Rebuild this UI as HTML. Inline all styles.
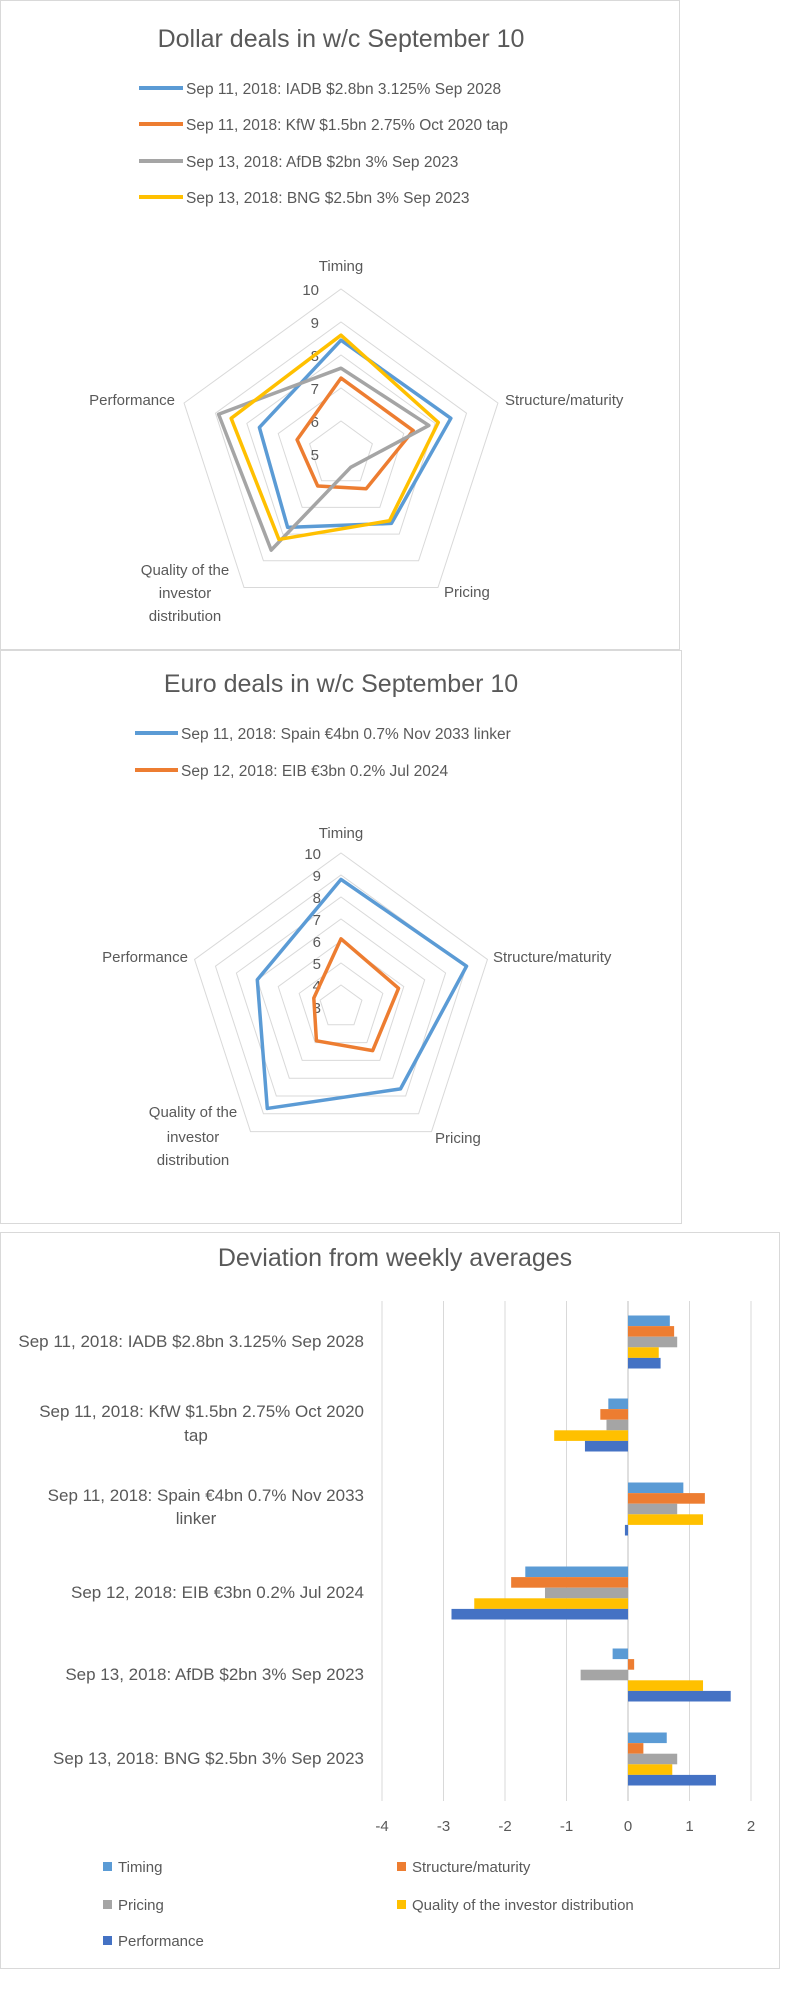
<!DOCTYPE html>
<html><head><meta charset="utf-8"><style>
html,body{margin:0;padding:0;background:#fff}
svg{display:block;font-family:"Liberation Sans",sans-serif}
</style></head><body>
<svg id="s" width="800" height="1994" xmlns="http://www.w3.org/2000/svg">
<rect x="0.5" y="0.5" width="679" height="649" fill="#fff" stroke="#d9d9d9"/>
<rect x="0.5" y="650.5" width="681" height="573" fill="#fff" stroke="#d9d9d9"/>
<rect x="0.5" y="1232.5" width="779" height="736" fill="#fff" stroke="#d9d9d9"/>
<g fill="#595959">
<text x="341" y="47" font-size="25" text-anchor="middle">Dollar deals in w/c September 10</text>
<text x="341" y="692" font-size="25" text-anchor="middle">Euro deals in w/c September 10</text>
<text x="395" y="1266" font-size="25" text-anchor="middle">Deviation from weekly averages</text>
</g>
<g font-size="15.5" fill="#595959">
<line x1="139" y1="88" x2="183" y2="88" stroke="#5B9BD5" stroke-width="4"/><text x="186" y="94">Sep 11, 2018: IADB $2.8bn 3.125% Sep 2028</text>
<line x1="139" y1="124" x2="183" y2="124" stroke="#ED7D31" stroke-width="4"/><text x="186" y="130">Sep 11, 2018: KfW $1.5bn 2.75% Oct 2020 tap</text>
<line x1="139" y1="161" x2="183" y2="161" stroke="#A5A5A5" stroke-width="4"/><text x="186" y="167">Sep 13, 2018: AfDB $2bn 3% Sep 2023</text>
<line x1="139" y1="197" x2="183" y2="197" stroke="#FFC000" stroke-width="4"/><text x="186" y="203">Sep 13, 2018: BNG $2.5bn 3% Sep 2023</text>
<line x1="135" y1="733" x2="178" y2="733" stroke="#5B9BD5" stroke-width="4"/><text x="181" y="739">Sep 11, 2018: Spain €4bn 0.7% Nov 2033 linker</text>
<line x1="135" y1="770" x2="178" y2="770" stroke="#ED7D31" stroke-width="4"/><text x="181" y="776">Sep 12, 2018: EIB €3bn 0.2% Jul 2024</text>
</g>
<g id="r1"></g><g id="r2"></g><g id="b"></g>
</svg>
<script>
var NS="http://www.w3.org/2000/svg";
function el(p,t,a,txt){var e=document.createElementNS(NS,t);for(var k in a)e.setAttribute(k,a[k]);if(txt!=null)e.textContent=txt;p.appendChild(e);return e;}
function radar(g,cx,cy,R,min,max,series,labels,tickX){
 var n=max-min;
 function pt(i,v){var a=(-90+72*i)*Math.PI/180,r=(v-min)/n*R;return [cx+r*Math.cos(a),cy+r*Math.sin(a)];}
 for(var l=min+1;l<=max;l++){var p=[];for(var i=0;i<5;i++)p.push(pt(i,l).join(','));el(g,'polygon',{points:p.join(' '),fill:'none',stroke:'#d9d9d9','stroke-width':1});}
 for(var l=min;l<=max;l++){el(g,'text',{x:tickX,y:cy-(l-min)/n*R+6,'font-size':15,'text-anchor':'end',fill:'#595959'},l);}
 series.forEach(function(s){var p=[];for(var i=0;i<5;i++)p.push(pt(i,s.v[i]).join(','));el(g,'polygon',{points:p.join(' '),fill:'none',stroke:s.c,'stroke-width':3.5,'stroke-linejoin':'round'});});
 labels.forEach(function(L){el(g,'text',{x:L[0],y:L[1],'font-size':15,'text-anchor':L[3]||'start',fill:'#595959'},L[2]);});
}
radar(document.getElementById('r1'),341,454,165,5,10,[
 {c:'#5B9BD5',v:[8.45,8.5,7.6,7.75,7.6]},
 {c:'#ED7D31',v:[7.3,7.3,6.3,6.2,6.4]},
 {c:'#A5A5A5',v:[7.6,7.8,5.5,8.6,8.9]},
 {c:'#FFC000',v:[8.6,8.1,7.5,8.2,8.5]}],
 [[341,271,'Timing','middle'],[505,405,'Structure/maturity'],[175,405,'Performance','end'],[444,597,'Pricing'],[185,575,'Quality of the','middle'],[185,598,'investor','middle'],[185,621,'distribution','middle']],319);
radar(document.getElementById('r2'),341,1007,154,3,10,[
 {c:'#5B9BD5',v:[8.8,9.0,7.6,8.7,7.0]},
 {c:'#ED7D31',v:[6.1,5.75,5.45,4.9,4.3]}],
 [[341,838,'Timing','middle'],[493,962,'Structure/maturity'],[188,962,'Performance','end'],[435,1143,'Pricing'],[193,1117,'Quality of the','middle'],[193,1142,'investor','middle'],[193,1165,'distribution','middle']],321);
var b=document.getElementById('b');
var z=628,u=61.5;
for(var t=-4;t<=2;t++){var x=z+t*u;el(b,'line',{x1:x,y1:1301,x2:x,y2:1801,stroke:t==0?'#bfbfbf':'#d9d9d9'});el(b,'text',{x:x,y:1831,'font-size':15,'text-anchor':'middle',fill:'#595959'},t);}
var cols=['#5B9BD5','#ED7D31','#A5A5A5','#FFC000','#4472C4'];
var data=[[0.68,0.75,0.8,0.5,0.53],[-0.32,-0.45,-0.35,-1.2,-0.7],[0.9,1.25,0.8,1.22,-0.05],[-1.67,-1.9,-1.35,-2.5,-2.87],[-0.25,0.1,-0.77,1.22,1.67],[0.63,0.25,0.8,0.72,1.43]];
var cy=[1342,1425,1509,1593,1675,1759];
data.forEach(function(d,gi){d.forEach(function(v,i){var y=cy[gi]-26.5+i*10.6;el(b,'rect',{x:Math.min(z,z+v*u),y:y,width:Math.abs(v*u),height:10.6,fill:cols[i]});});});
var labs=[[[1347,'Sep 11, 2018: IADB $2.8bn 3.125% Sep 2028']],[[1417,'Sep 11, 2018: KfW $1.5bn 2.75% Oct 2020'],[1441,'tap',1]],[[1501,'Sep 11, 2018: Spain €4bn 0.7% Nov 2033'],[1524,'linker',1]],[[1598,'Sep 12, 2018: EIB €3bn 0.2% Jul 2024']],[[1680,'Sep 13, 2018: AfDB $2bn 3% Sep 2023']],[[1764,'Sep 13, 2018: BNG $2.5bn 3% Sep 2023']]];
labs.forEach(function(L){L.forEach(function(l){el(b,'text',{x:l[2]?196:364,y:l[0],'font-size':17,'text-anchor':l[2]?'middle':'end',fill:'#595959'},l[1]);});});
var leg=[[103,1867,'Timing',0],[397,1867,'Structure/maturity',1],[103,1905,'Pricing',2],[397,1905,'Quality of the investor distribution',3],[103,1941,'Performance',4]];
leg.forEach(function(l){el(b,'rect',{x:l[0],y:l[1]-5,width:9,height:9,fill:cols[l[3]]});el(b,'text',{x:l[0]+15,y:l[1]+5,'font-size':15,fill:'#595959'},l[2]);});
</script>
</body></html>
